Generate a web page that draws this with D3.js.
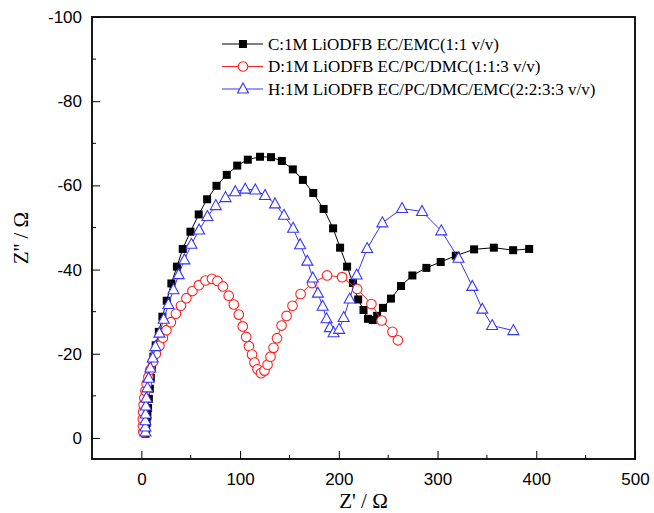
<!DOCTYPE html>
<html>
<head>
<meta charset="utf-8">
<script src="https://cdn.jsdelivr.net/npm/d3@7"></script>
<style>
  body { margin: 0; background: #fff; }
  .tick text { font-family: "Liberation Sans", Arial, sans-serif; font-size: 17px; fill: #000; }
  .axis path, .axis line { stroke: #000; }
</style>
</head>
<body>
<div id="chart"></div>
<script>
// series C: 1M LiODFB EC/EMC (Z', Z'')
var cX = [4.1,4.8,5.4,6.1,6.8,7.6,8.6,9.6,10.7,12.2,14.5,17.7,21.3,25.7,30.4,36.0,41.9,49.7,58.1,66.6,76.1,86.5,97.1,107.8,120.2,131.3,142.3,153.4,163.6,174.1,184.6,194.2,201.3,208.4,214.3,219.6,225.0,229.5,234.3,238.8,244.7,252.8,263.0,274.5,288.7,303.2,318.5,337.0,357.0,376.6,392.8];
var cY = [-1.0,-2.1,-3.6,-5.2,-7.1,-9.3,-11.7,-14.3,-16.7,-19.3,-22.0,-25.2,-28.8,-32.6,-36.7,-40.7,-44.9,-49.0,-53.1,-56.7,-59.9,-62.5,-64.7,-66.1,-66.8,-66.7,-65.8,-63.8,-61.3,-58.2,-54.4,-49.8,-45.2,-40.7,-36.8,-32.9,-30.4,-28.3,-28.0,-29.0,-30.9,-33.1,-36.1,-38.6,-40.4,-41.8,-43.3,-44.8,-45.2,-44.6,-44.9];

// series D: 1M LiODFB EC/PC/DMC
var dX = [2.0,1.6,1.5,1.8,2.3,3.0,4.1,5.4,7.1,9.1,11.7,14.7,18.3,21.8,25.4,29.9,35.0,40.1,45.6,51.7,58.3,64.9,71.5,77.1,82.7,88.5,93.6,98.7,102.7,106.2,109.0,112.1,114.6,117.6,121.2,124.7,127.8,130.8,133.9,137.4,142.0,147.1,153.1,161.3,172.9,188.1,203.3,218.6,233.0,243.4,254.3,259.9];
var dY = [-1.4,-2.9,-4.5,-6.2,-7.9,-9.5,-11.2,-12.9,-14.5,-16.2,-18.1,-20.0,-21.9,-23.8,-25.6,-27.5,-29.5,-31.4,-33.2,-34.9,-36.3,-37.4,-37.8,-37.3,-36.0,-33.8,-31.7,-29.3,-26.5,-24.0,-21.8,-19.8,-17.9,-16.3,-15.4,-16.0,-17.4,-19.3,-21.4,-23.7,-26.7,-29.0,-31.4,-34.2,-36.8,-38.6,-38.2,-35.4,-31.8,-27.9,-25.2,-23.2];

// series H: 1M LiODFB EC/PC/DMC/EMC
var hX = [4.1,4.1,4.1,4.3,4.6,5.1,6.1,7.4,9.1,11.5,14.2,18.3,22.6,27.4,32.5,37.8,43.6,50.7,58.5,66.9,75.4,85.2,95.1,105.2,115.4,125.3,135.4,144.5,153.7,160.8,168.1,173.7,178.8,183.6,187.6,190.9,194.7,200.3,204.9,211.0,218.1,228.7,244.1,264.0,284.3,303.8,321.2,335.2,345.3,355.3,376.8];
var hY = [-1.4,-2.6,-4.1,-5.7,-7.6,-9.5,-11.9,-14.2,-16.6,-19.0,-21.7,-24.9,-28.2,-31.7,-35.2,-38.8,-42.3,-46.0,-49.4,-52.6,-55.2,-57.1,-58.5,-59.1,-58.9,-57.6,-55.6,-52.9,-49.8,-45.9,-42.0,-38.0,-34.4,-31.3,-28.3,-26.2,-25.0,-25.8,-28.6,-33.0,-38.7,-45.0,-51.1,-54.5,-53.8,-49.2,-42.7,-36.0,-30.6,-26.7,-25.5];

var xTicks = [0, 100, 200, 300, 400, 500];
var yTicks = [0, -20, -40, -60, -80, -100];
var legendLabels = ["C:1M LiODFB EC/EMC(1:1 v/v)", "D:1M LiODFB EC/PC/DMC(1:1:3 v/v)", "H:1M LiODFB EC/PC/DMC/EMC(2:2:3:3 v/v)"];

var W = 654, H = 513;
var margin = {t: 17, r: 19, b: 54, l: 92};
var width = W - margin.l - margin.r,
    height = H - margin.t - margin.b;

var svg = d3.select('#chart').append('svg')
    .attr('width', W)
    .attr('height', H);

var g = svg.append('g').attr('transform', 'translate(' + margin.l + ',' + margin.t + ')');

var scaleX = d3.scaleLinear().domain([-50, 500]).range([0, width]);
var scaleY = d3.scaleLinear().domain([5, -100]).range([height, 0]);

// axes, ticks point inward; plain hyphen for negatives like the original
var fmt = function(d){ return String(d); };
var axisX = d3.axisBottom(scaleX).tickValues(xTicks).tickFormat(fmt).tickSizeInner(-8).tickSizeOuter(0).tickPadding(14);
var axisY = d3.axisLeft(scaleY).tickValues(yTicks).tickFormat(fmt).tickSizeInner(-8).tickSizeOuter(0).tickPadding(10);

g.append('g').attr('class', 'axis axis-x').attr('transform', 'translate(0,' + height + ')').call(axisX);
g.append('g').attr('class', 'axis axis-y').call(axisY);
g.selectAll('.axis path').remove();

// minor ticks
var xMinor = [50, 150, 250, 350, 450];
var yMinor = [-10, -30, -50, -70, -90];
g.selectAll('.xminor').data(xMinor).enter().append('line')
    .attr('x1', function(d){ return scaleX(d); }).attr('x2', function(d){ return scaleX(d); })
    .attr('y1', height).attr('y2', height - 4).attr('stroke', '#000');
g.selectAll('.yminor').data(yMinor).enter().append('line')
    .attr('y1', function(d){ return scaleY(d); }).attr('y2', function(d){ return scaleY(d); })
    .attr('x1', 0).attr('x2', 4).attr('stroke', '#000');

// frame
g.append('rect').attr('width', width).attr('height', height)
    .attr('fill', 'none').attr('stroke', '#000').attr('stroke-width', 1.8);

// axis titles
svg.append('text').attr('x', margin.l + width / 2).attr('y', 508)
    .attr('text-anchor', 'middle')
    .style('font-family', '"Liberation Serif", "Times New Roman", serif').style('font-size', '21px')
    .text("Z' / \u03A9");
svg.append('text')
    .attr('transform', 'translate(28,' + (margin.t + height / 2) + ') rotate(-90)')
    .attr('text-anchor', 'middle')
    .style('font-family', '"Liberation Serif", "Times New Roman", serif').style('font-size', '21px')
    .text("Z'' / \u03A9");

function toPts(xs, ys) {
    return xs.map(function(x, i){ return [x, ys[i]]; });
}

var series = [
    {pts: toPts(cX, cY), color: '#000', shape: 'square'},
    {pts: toPts(dX, dY), color: '#ff2020', shape: 'circle'},
    {pts: toPts(hX, hY), color: '#3535ff', shape: 'triangle'}
];

var line = d3.line()
    .x(function(d){ return scaleX(d[0]); })
    .y(function(d){ return scaleY(d[1]); });

function marker(sel, s) {
    if (s.shape === 'square') {
        sel.append('rect').attr('x', -4).attr('y', -4).attr('width', 8).attr('height', 8)
            .attr('fill', s.color);
    } else if (s.shape === 'circle') {
        sel.append('circle').attr('r', 4.8)
            .attr('fill', '#fff').attr('stroke', s.color).attr('stroke-width', 1.1);
    } else {
        sel.append('path').attr('d', 'M0,-6L5.5,4L-5.5,4Z')
            .attr('fill', '#fff').attr('stroke', s.color).attr('stroke-width', 1.1);
    }
}

var plot = g.append('g').attr('class', 'series');
series.forEach(function(s){
    plot.append('path').datum(s.pts)
        .attr('d', line).attr('fill', 'none')
        .attr('stroke', s.color).attr('stroke-width', 1);
    plot.selectAll(null).data(s.pts).enter().append('g')
        .attr('transform', function(d){ return 'translate(' + scaleX(d[0]) + ',' + scaleY(d[1]) + ')'; })
        .each(function(){ marker(d3.select(this), s); });
});

// legend
var legend = svg.append('g').attr('class', 'legend');
series.forEach(function(s, i){
    var y = 44 + i * 22.5;
    legend.append('line').attr('x1', 222).attr('x2', 263).attr('y1', y).attr('y2', y)
        .attr('stroke', s.color).attr('stroke-width', 1);
    var m = legend.append('g').attr('transform', 'translate(243,' + y + ')');
    marker(m, s);
    legend.append('text').attr('x', 268).attr('y', y + 5.5)
        .style('font-family', '"Liberation Serif", "Times New Roman", serif').style('font-size', '17px')
        .text(legendLabels[i]);
});
</script>
</body>
</html>
